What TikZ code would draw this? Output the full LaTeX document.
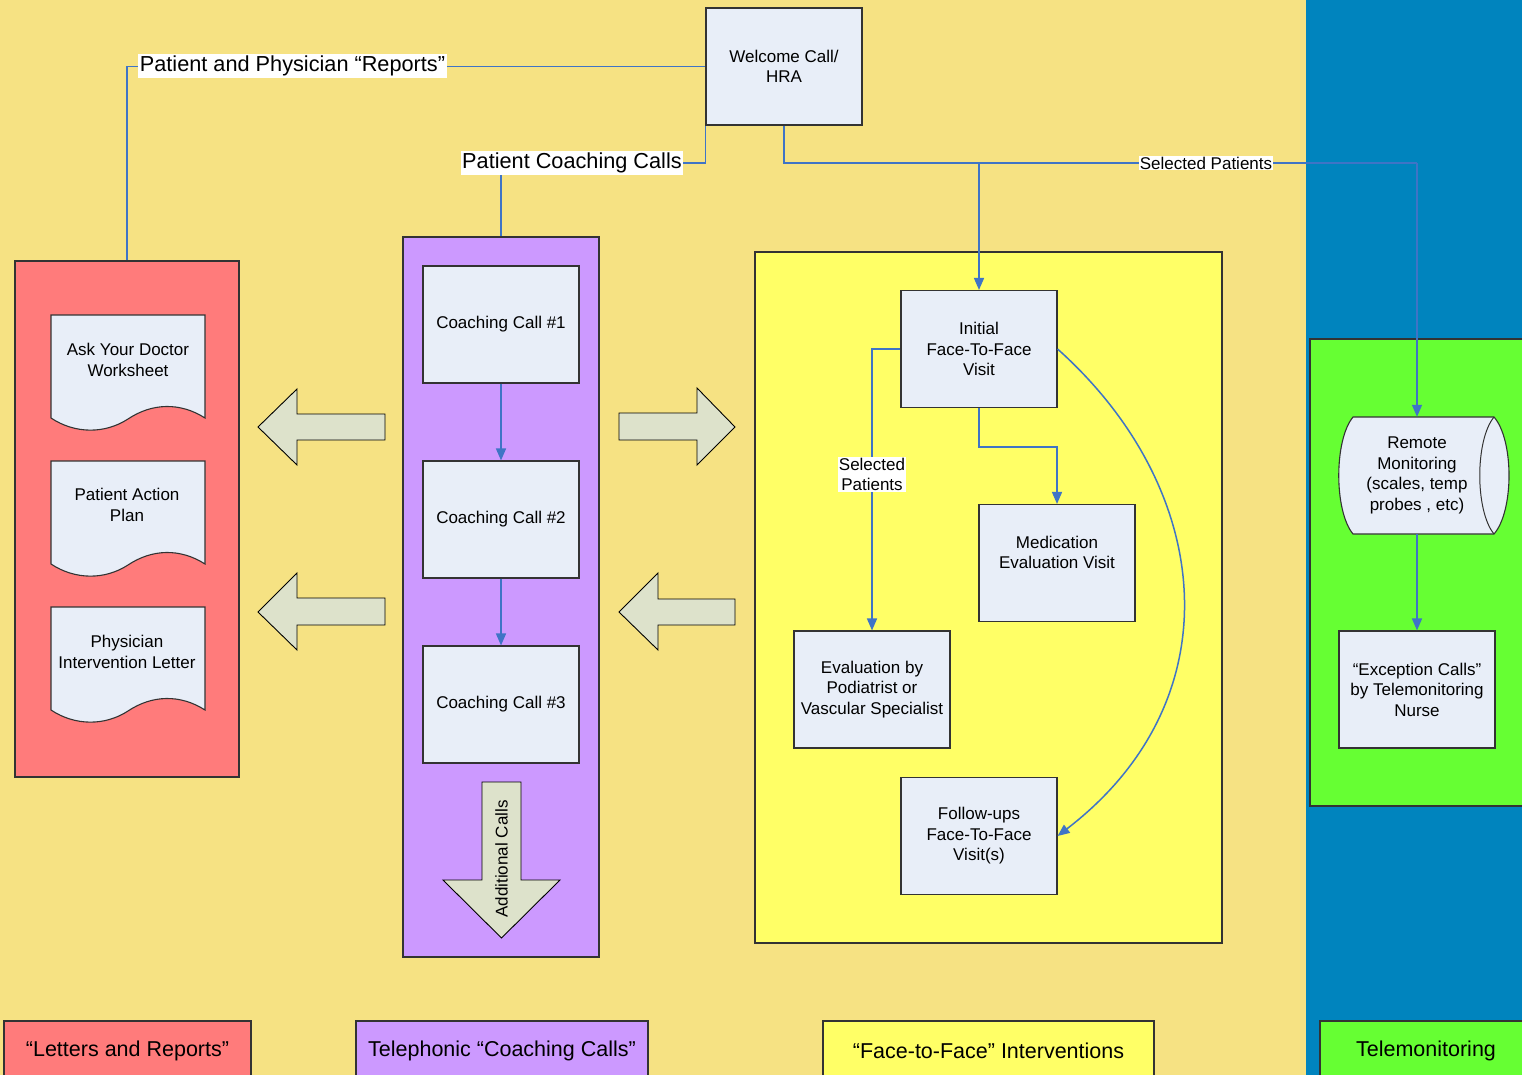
\documentclass[tikz,border=0pt]{standalone}
\usepackage{fontspec}
\setmainfont{Liberation Sans}
\usetikzlibrary{arrows.meta}
\definecolor{bgtan}{HTML}{F6E283}
\definecolor{bgblue}{HTML}{0084BE}
\definecolor{redbox}{HTML}{FF7B7B}
\definecolor{purplebox}{HTML}{CC99FF}
\definecolor{yellowbox}{HTML}{FFFF66}
\definecolor{greenbox}{HTML}{66FF33}
\definecolor{nodefill}{HTML}{E8EEF8}
\definecolor{arrowfill}{HTML}{DDE2CB}
\definecolor{linkblue}{HTML}{3F74C6}
\definecolor{edgegrey}{HTML}{333333}
\begin{document}
\begin{tikzpicture}[x=1pt,y=-1pt,
  nodetext/.style={font=\fontsize{17}{20.5}\selectfont, align=center},
  procbox/.style={nodetext, draw=edgegrey, line width=1.1pt, fill=nodefill,
    minimum width=156pt, minimum height=117pt, inner sep=0pt},
  column/.style={draw=edgegrey, line width=1.1pt, inner sep=0pt},
  titlelabel/.style={fill=white, inner sep=1.5pt, font=\fontsize{21.7}{26}\selectfont},
  smalllabel/.style={nodetext, fill=white, inner sep=1pt},
  footbox/.style={draw=edgegrey, line width=1.1pt, minimum height=60pt, inner sep=0pt,
    font=\fontsize{21.5}{26}\selectfont},
  link/.style={draw=linkblue, line width=1.5pt},
  linkarrow/.style={link, -{Triangle[length=12pt,width=10pt]}},
  blockarrow/.style={draw=black, line width=0.9pt, fill=arrowfill, line join=miter},
  docshape/.style={draw=edgegrey, line width=1.1pt, fill=nodefill}
]
\useasboundingbox (0,0) rectangle (1522,1075);
\clip (0,0) rectangle (1522,1075);
% backgrounds
\fill[bgtan] (0,0) rectangle (1306,1075);
\fill[bgblue] (1306,0) rectangle (1522,1075);

% columns
\node[column, fill=redbox, minimum width=224pt, minimum height=516pt] (redcol) at (127,519) {};
\node[column, fill=purplebox, minimum width=196pt, minimum height=720pt] (purplecol) at (501,597) {};
\node[column, fill=yellowbox, minimum width=467pt, minimum height=691pt] (yellowcol) at (988.5,597.5) {};
\node[column, fill=greenbox, minimum width=222pt, minimum height=467pt] (greencol) at (1421,572.5) {};

% welcome
\node[procbox] (wel) at (784,66.5) {Welcome Call/\\HRA};

% connectors from welcome
\coordinate (selbar) at (0,163);
\draw[link] (wel.west) -| (redcol.north);
\node[titlelabel] (lblreports) at (292.5,66) {Patient and Physician “Reports”};
\draw[link] (wel.south west) |- (purplecol.north |- selbar) -- (purplecol.north);
\node[titlelabel] (lblcoach) at (572,163) {Patient Coaching Calls};

% documents
\foreach \y/\nm in {315/doca,461/docb,607/docc}{
  \draw[docshape] (51,\y) -- (205,\y) -- (205,\y+103)
     .. controls (180,\y+87) and (152,\y+88) .. (128,\y+104)
     .. controls (105,\y+119) and (75,\y+119) .. (51,\y+103) -- cycle;
}
\node[nodetext] (doctexta) at (128,360) {Ask Your Doctor\\Worksheet};
\node[nodetext] (doctextb) at (127,505) {Patient Action\\Plan};
\node[nodetext] (doctextc) at (127,652) {Physician\\Intervention Letter};

% block arrows
\draw[blockarrow] (385,414) -- (297,414) -- (297,389) -- (258,427) -- (297,465) -- (297,440) -- (385,440) -- cycle;
\draw[blockarrow] (385,598) -- (297,598) -- (297,573) -- (258,612) -- (297,650) -- (297,625) -- (385,625) -- cycle;
\draw[blockarrow] (619,413) -- (697,413) -- (697,388) -- (735,427) -- (697,465) -- (697,440) -- (619,440) -- cycle;
\draw[blockarrow] (735,599) -- (658,599) -- (658,573) -- (619,612) -- (658,650) -- (658,625) -- (735,625) -- cycle;

% coaching calls
\node[procbox] (cc1) at (501,324.5) {Coaching Call \#1};
\node[procbox] (cc2) at (501,519.5) {Coaching Call \#2};
\node[procbox] (cc3) at (501,704.5) {Coaching Call \#3};
\draw[linkarrow] (cc1.south) -- (cc2.north);
\draw[linkarrow] (cc2.south) -- (cc3.north);
\draw[blockarrow] (482,782) -- (521,782) -- (521,880) -- (560,880) -- (501.5,938) -- (443,880) -- (482,880) -- cycle;
\node[nodetext, rotate=90] (addcalls) at (501.5,859) {Additional Calls};

% face to face
\node[procbox] (init) at (979,349) {Initial\\Face-To-Face\\Visit};
\node[procbox] (med) at (1057,563) {};
\node[nodetext] (medtext) at (1057,552.5) {Medication\\Evaluation Visit};
\node[procbox] (eval) at (872,689.5) {Evaluation by\\Podiatrist or\\Vascular Specialist};
\node[procbox] (fu) at (979,836) {Follow-ups\\Face-To-Face\\Visit(s)};
\draw[linkarrow] (init.south) -- ++(0,39) -| (med.north);
\draw[linkarrow] (init.west) -| (eval.north);
\node[smalllabel] (lblsel2) at (872,474.5) {Selected\\Patients};
\draw[linkarrow] (init.east) .. controls (1215,490) and (1235,700) .. (fu.east);

% telemonitoring
\draw[docshape] (1353,417) -- (1494,417)
   .. controls (1514,440) and (1514,511) .. (1494,534)
   -- (1353,534)
   .. controls (1334,511) and (1334,440) .. (1353,417) -- cycle;
\draw[edgegrey, line width=1pt] (1494,417) .. controls (1475,440) and (1475,511) .. (1494,534);
\node[nodetext, minimum width=155pt, minimum height=117pt, inner sep=0pt] (rm) at (1417,475.5) {Remote\\Monitoring\\(scales, temp\\probes , etc)};
\node[procbox] (exc) at (1417,689.5) {“Exception Calls”\\by Telemonitoring\\Nurse};
\draw[linkarrow] (rm.south) -- (exc.north);

% selected patients connectors
\draw[link] (wel.south) |- (rm.north |- selbar);
\draw[linkarrow] (init.north |- selbar) -- (init.north);
\draw[linkarrow] (rm.north |- selbar) -- (rm.north);
\node[smalllabel] (lblsel1) at (1206,163) {Selected Patients};

% footer labels
\node[footbox, fill=redbox, minimum width=247pt] (f1) at (127.5,1051) {“Letters and Reports”};
\node[footbox, fill=purplebox, minimum width=292pt] (f2) at (502,1051) {Telephonic “Coaching Calls”};
\node[footbox, fill=yellowbox, minimum width=331pt] (f3) at (988.5,1051) {“Face-to-Face” Interventions};
\node[footbox, fill=greenbox, minimum width=212pt] (f4) at (1426,1051) {Telemonitoring};
\end{tikzpicture}
\end{document}
